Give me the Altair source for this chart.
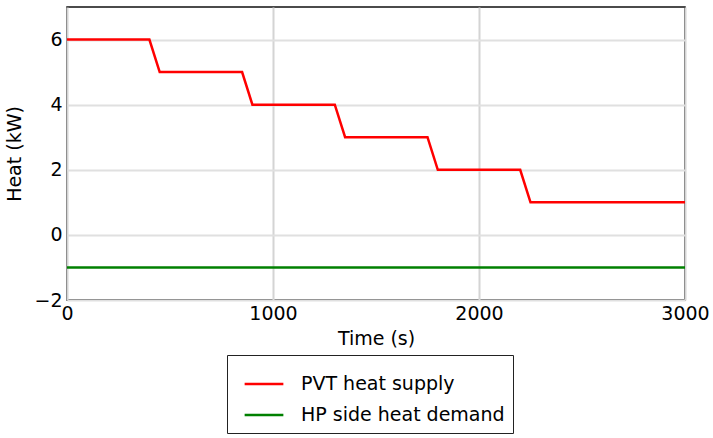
import altair as alt
import pandas as pd

pvt_time = [0, 400, 450, 850, 900, 1300, 1350, 1750, 1800, 2200, 2250, 3000]
pvt_heat = [6, 6, 5, 5, 4, 4, 3, 3, 2, 2, 1, 1]
hp_time = [0, 3000]
hp_heat = [-1, -1]
series_names = ["PVT heat supply", "HP side heat demand"]
series_colors = ["#ff0000", "#008000"]

rows = []
for i, (t, h) in enumerate(zip(pvt_time, pvt_heat)):
    rows.append({"t": t, "q": h, "s": series_names[0], "o": i})
for i, (t, h) in enumerate(zip(hp_time, hp_heat)):
    rows.append({"t": t, "q": h, "s": series_names[1], "o": i})
df = pd.DataFrame(rows)

FONT = "DejaVu Sans"
NBSP = "\u00a0"

chart = alt.Chart(df).mark_line(strokeWidth=2.5).encode(
    x=alt.X("t:Q", title="Time (s)",
            scale=alt.Scale(domain=[0, 3000], nice=False, zero=False),
            axis=alt.Axis(values=[0, 1000, 2000, 3000], format="d", tickSize=0, labelPadding=4,
                          titlePadding=6, labelFlush=False, labelOverlap=False,
                          domain=False, gridColor="#d4d4d4", gridWidth=2)),
    y=alt.Y("q:Q", title="Heat (kW)",
            scale=alt.Scale(domain=[-2, 7], nice=False, zero=False),
            axis=alt.Axis(values=[-2, 0, 2, 4, 6], tickSize=0, labelPadding=5,
                          titlePadding=9, labelFlush=False, labelOverlap=False,
                          domain=False, gridColor="#e0e0e0", gridWidth=2)),
    color=alt.Color("s:N", sort=series_names,
                    scale=alt.Scale(domain=series_names, range=series_colors),
                    legend=alt.Legend(title=None, orient="none", legendX=160, legendY=348,
                                      symbolType="stroke", symbolSize=1500,
                                      symbolStrokeWidth=2.5, labelOffset=16,
                                      symbolOffset=8,
                                      labelFontSize=19, labelFont=FONT, labelColor="#000",
                                      labelLimit=500,
                                      rowPadding=-10, padding=8, strokeColor="#222",
                                      fillColor="white",
                                      labelExpr="datum.label + '" + NBSP * 2 + "'")),
    order="o:Q",
).properties(
    width=618, height=293,
    autosize=alt.AutoSizeParams(type="none"),
    padding={"left": 67, "top": 7, "right": 28, "bottom": 138},
).configure_view(
    stroke="#111", strokeWidth=1.5
).configure_axis(
    labelFont=FONT, titleFont=FONT, labelFontSize=19, titleFontSize=19,
    labelColor="#000", titleColor="#000", titleFontWeight="normal"
)

chart.save("out.html", embed_options={"renderer": "svg", "actions": False})
